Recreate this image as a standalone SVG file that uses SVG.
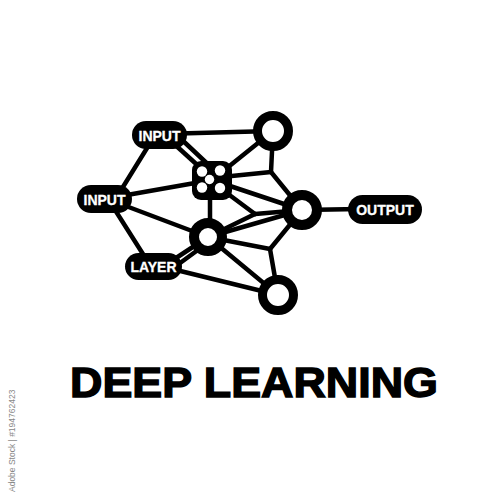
<svg xmlns="http://www.w3.org/2000/svg" width="500" height="500" viewBox="0 0 500 500">
<style>
.e{stroke:#000;stroke-width:4.5;stroke-linecap:round;fill:none}
.pill{fill:#000}
.lbl{fill:#fff;font-family:"Liberation Sans",Arial,sans-serif;font-weight:bold;font-size:14px;text-anchor:middle;stroke:#fff;stroke-width:0.3}
.ring{fill:#fff;stroke:#000}
</style>
<rect width="500" height="500" fill="#fff"/>
<g id="connectors">
<line class="e" x1="160" y1="134" x2="273" y2="131"/>
<line class="e" x1="172" y1="142" x2="205" y2="172"/>
<line class="e" x1="180" y1="138" x2="214" y2="170"/>
<line class="e" x1="152" y1="140" x2="118" y2="195"/>
<line class="e" x1="110" y1="198" x2="212" y2="180"/>
<line class="e" x1="110" y1="200" x2="208" y2="237"/>
<line class="e" x1="110" y1="202" x2="148" y2="262"/>
<line class="e" x1="170" y1="262" x2="208" y2="237"/>
<line class="e" x1="176" y1="266" x2="206" y2="244"/>
<line class="e" x1="160" y1="266" x2="278" y2="295"/>
<line class="e" x1="210" y1="180" x2="210" y2="237"/>
<line class="e" x1="212" y1="180" x2="273" y2="131"/>
<line class="e" x1="273" y1="131" x2="271" y2="172"/>
<line class="e" x1="212" y1="178" x2="271" y2="172"/>
<line class="e" x1="271" y1="172" x2="302" y2="210"/>
<line class="e" x1="212" y1="180" x2="302" y2="210"/>
<line class="e" x1="212" y1="182" x2="255" y2="214"/>
<line class="e" x1="255" y1="214" x2="302" y2="210"/>
<line class="e" x1="255" y1="214" x2="208" y2="237"/>
<line class="e" x1="208" y1="237" x2="302" y2="210"/>
<line class="e" x1="208" y1="237" x2="270" y2="249"/>
<line class="e" x1="270" y1="249" x2="302" y2="210"/>
<line class="e" x1="270" y1="249" x2="278" y2="295"/>
<line class="e" x1="208" y1="237" x2="278" y2="295"/>
<line class="e" x1="302" y1="210" x2="360" y2="209"/>
</g>
<g id="input-top"><rect class="pill" x="132" y="121" width="55" height="28" rx="14"/><text class="lbl" x="159.5" y="140.5">INPUT</text></g>
<g id="input-left"><rect class="pill" x="77" y="185" width="55" height="28" rx="14"/><text class="lbl" x="104.5" y="204.5">INPUT</text></g>
<g id="layer"><rect class="pill" x="125" y="253" width="57" height="27" rx="13.5"/><text class="lbl" x="153.5" y="271.5">LAYER</text></g>
<g id="output"><rect class="pill" x="348" y="195" width="74" height="29" rx="14.5"/><text class="lbl" x="385" y="214.5">OUTPUT</text></g>
<g id="square">
<rect x="192" y="161" width="40" height="39" rx="9" fill="#000"/>
<g fill="#fff"><circle cx="202" cy="171.5" r="5.2"/><circle cx="220" cy="170.5" r="5.2"/><circle cx="209.5" cy="179.5" r="4.7"/><circle cx="202" cy="187.5" r="5.2"/><circle cx="220" cy="188" r="5.2"/></g>
</g>
<g id="ring-top"><circle class="ring" cx="273" cy="131" r="15.5" stroke-width="9"/></g>
<g id="ring-right"><circle class="ring" cx="302" cy="210" r="15" stroke-width="10"/></g>
<g id="ring-mid"><circle class="ring" cx="208" cy="237" r="14" stroke-width="10"/></g>
<g id="ring-bottom"><circle class="ring" cx="278" cy="295" r="15.5" stroke-width="9"/></g>
<text x="70" y="397" font-family="Liberation Sans,Arial,sans-serif" font-weight="bold" font-size="42" textLength="368" lengthAdjust="spacingAndGlyphs" fill="#000" stroke="#000" stroke-width="1.4">DEEP LEARNING</text>
<text transform="translate(15,492) rotate(-90)" font-family="Liberation Sans,Arial,sans-serif" font-size="8.5" fill="#888">Adobe Stock | #194762423</text>
</svg>
